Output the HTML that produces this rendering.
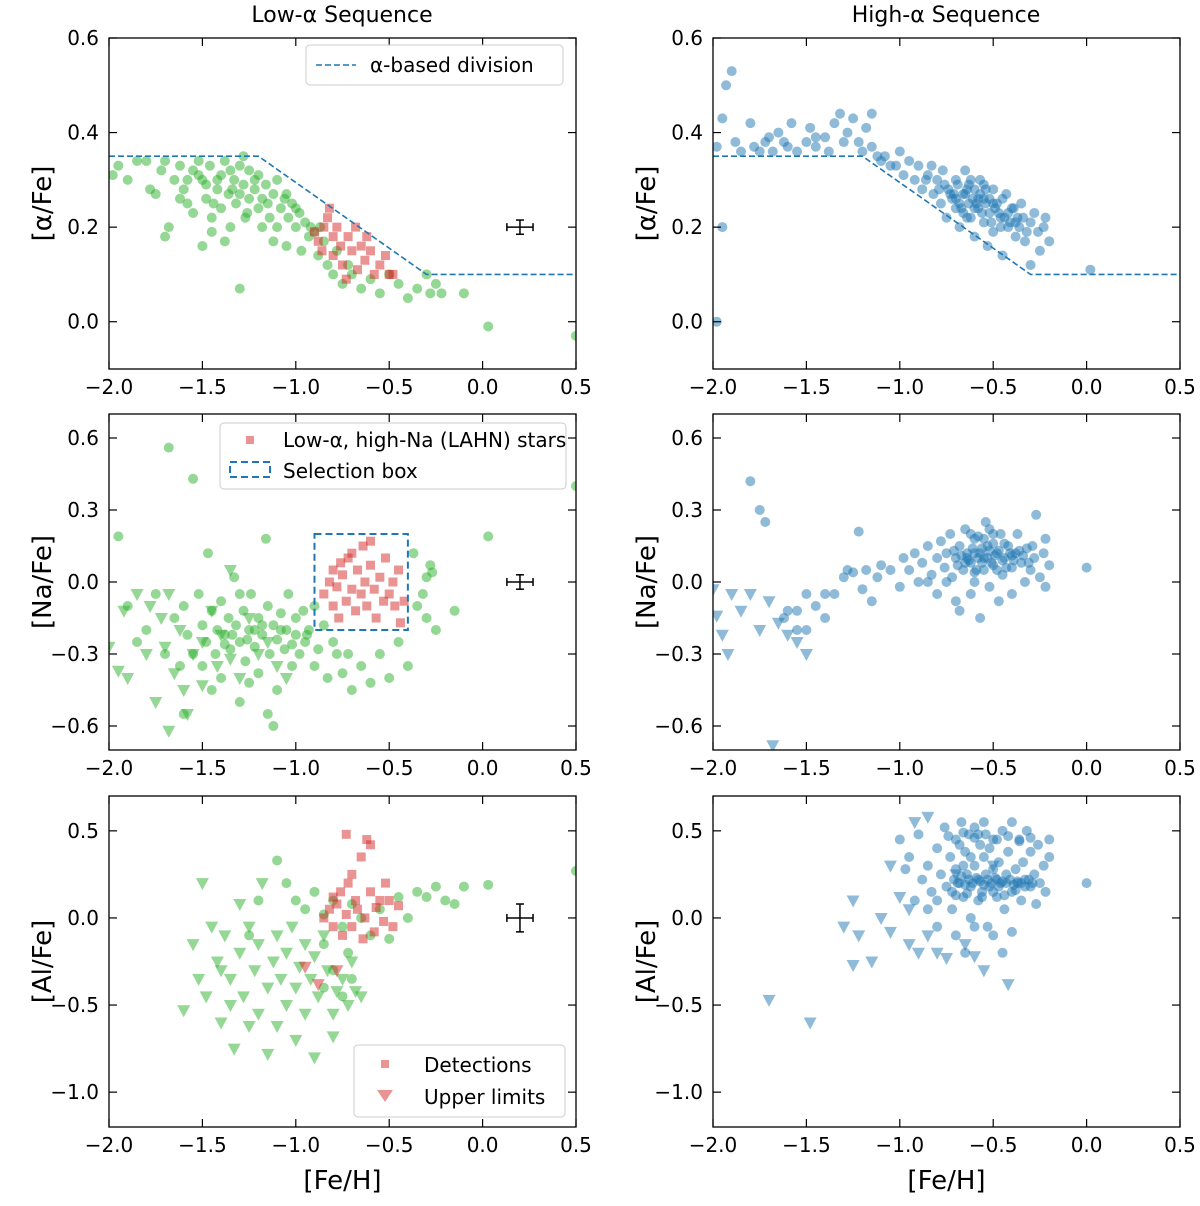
<!DOCTYPE html>
<html><head><meta charset="utf-8"><style>
body{margin:0;background:#fff;}
svg text{font-family:"DejaVu Sans","Liberation Sans",sans-serif;fill:#000;}
</style></head><body>
<svg id="fig" width="1200" height="1201" xmlns="http://www.w3.org/2000/svg">
<text x="342" y="22" font-size="22" text-anchor="middle">Low-α Sequence</text>
<text x="946" y="22" font-size="22" text-anchor="middle">High-α Sequence</text>
</svg>
<script>
// ===== data =====
const aGreenX=[-1.98,-1.95,-1.9,-1.85,-1.8,-1.78,-1.75,-1.72,-1.7,-1.68,-1.65,-1.62,-1.6,-1.58,-1.55,-1.52,-1.5,-1.5,-1.48,-1.46,-1.45,-1.42,-1.4,-1.4,-1.38,-1.36,-1.35,-1.33,-1.32,-1.3,-1.3,-1.28,-1.27,-1.25,-1.25,-1.22,-1.2,-1.2,-1.18,-1.16,-1.15,-1.14,-1.12,-1.1,-1.1,-1.08,-1.06,-1.05,-1.04,-1.02,-1.0,-0.98,-0.97,-0.95,-0.93,-0.9,-0.88,-0.85,-0.83,-0.8,-0.78,-0.75,-0.72,-0.7,-0.65,-0.6,-0.55,-0.5,-0.45,-0.4,-0.35,-0.3,-0.28,-0.25,-0.22,-0.1,0.03,0.5,-1.7,-1.45,-1.55,-1.38,-1.62,-1.28,-1.12,-1.48,-1.42,-1.35,-1.3,-1.22,-1.18,-1.05,-1.0,-0.92,-0.87,-1.52,-1.58,-1.44,-1.26,-1.34];
const aGreenY=[0.31,0.33,0.3,0.34,0.34,0.28,0.27,0.32,0.34,0.2,0.3,0.33,0.28,0.25,0.32,0.34,0.3,0.16,0.26,0.33,0.22,0.28,0.31,0.24,0.34,0.27,0.2,0.3,0.25,0.33,0.07,0.29,0.22,0.32,0.26,0.28,0.24,0.31,0.2,0.29,0.25,0.22,0.27,0.3,0.2,0.24,0.26,0.16,0.22,0.25,0.2,0.23,0.15,0.21,0.18,0.19,0.14,0.17,0.12,0.1,0.15,0.08,0.12,0.1,0.07,0.09,0.06,0.1,0.08,0.05,0.07,0.1,0.06,0.08,0.06,0.06,-0.01,-0.03,0.18,0.19,0.23,0.17,0.26,0.35,0.17,0.29,0.3,0.32,0.27,0.3,0.26,0.27,0.24,0.2,0.2,0.31,0.3,0.25,0.23,0.28];
const aRedX=[-0.9,-0.88,-0.85,-0.83,-0.8,-0.8,-0.78,-0.76,-0.75,-0.72,-0.7,-0.68,-0.67,-0.65,-0.63,-0.6,-0.58,-0.55,-0.52,-0.5,-0.48,-0.82,-0.62,-0.73,-0.86];
const aRedY=[0.19,0.17,0.2,0.22,0.18,0.14,0.2,0.16,0.12,0.18,0.15,0.2,0.11,0.16,0.13,0.15,0.1,0.12,0.14,0.1,0.1,0.24,0.18,0.09,0.15];
const divX=[-2,-1.2,-0.3,0.5];
const divY=[0.35,0.35,0.1,0.1];
const bBlueX=[-1.98,-1.95,-1.93,-1.9,-1.88,-1.85,-1.8,-1.78,-1.75,-1.7,-1.68,-1.65,-1.6,-1.58,-1.55,-1.5,-1.48,-1.45,-1.4,-1.38,-1.35,-1.32,-1.3,-1.28,-1.25,-1.22,-1.2,-1.18,-1.15,-1.12,-1.1,-1.05,-1.0,-0.98,-0.95,-0.92,-0.9,-0.88,-0.85,-0.82,-0.8,-0.78,-0.76,-0.75,-0.73,-0.7,-0.7,-0.68,-0.66,-0.65,-0.63,-0.62,-0.6,-0.6,-0.58,-0.57,-0.55,-0.55,-0.53,-0.52,-0.5,-0.5,-0.48,-0.46,-0.45,-0.43,-0.42,-0.4,-0.38,-0.37,-0.35,-0.33,-0.3,-0.3,-0.28,-0.26,-0.25,-0.23,-0.22,-0.2,-0.72,-0.66,-0.62,-0.58,-0.54,-0.64,-0.68,0.02,-1.98,-1.95,
-0.74,-0.71,-0.69,-0.67,-0.65,-0.63,-0.61,-0.59,-0.57,-0.56,-0.54,-0.52,-0.51,-0.49,-0.47,-0.45,-0.44,-0.41,-0.39,-0.36,-0.34,-0.32,-0.6,-0.64,-0.7,-0.55,-0.5,-0.46,-0.42,-0.38,-0.86,-0.83,-0.79,-0.77,-1.15,-1.08,-1.02,-1.45,-1.62,-1.72];
const bBlueY=[0.37,0.43,0.5,0.53,0.38,0.36,0.42,0.37,0.36,0.39,0.36,0.4,0.37,0.42,0.36,0.38,0.41,0.37,0.39,0.36,0.42,0.44,0.38,0.4,0.43,0.38,0.36,0.41,0.44,0.35,0.34,0.33,0.36,0.31,0.34,0.3,0.33,0.28,0.31,0.27,0.3,0.25,0.29,0.22,0.27,0.3,0.24,0.2,0.27,0.32,0.25,0.22,0.28,0.18,0.24,0.3,0.26,0.21,0.16,0.23,0.28,0.19,0.25,0.22,0.14,0.27,0.2,0.24,0.18,0.22,0.25,0.17,0.21,0.12,0.23,0.19,0.15,0.2,0.22,0.17,0.26,0.23,0.3,0.26,0.28,0.28,0.25,0.11,0.0,0.2,
0.28,0.27,0.29,0.24,0.27,0.29,0.26,0.25,0.27,0.23,0.25,0.26,0.21,0.24,0.23,0.26,0.22,0.21,0.24,0.2,0.22,0.19,0.24,0.22,0.26,0.29,0.25,0.2,0.23,0.21,0.3,0.33,0.28,0.32,0.37,0.35,0.33,0.39,0.38,0.38];
const cGreenX=[-1.95,-1.9,-1.85,-1.8,-1.75,-1.7,-1.68,-1.65,-1.62,-1.6,-1.58,-1.55,-1.55,-1.52,-1.5,-1.48,-1.47,-1.45,-1.43,-1.42,-1.4,-1.4,-1.38,-1.36,-1.35,-1.33,-1.32,-1.3,-1.3,-1.28,-1.27,-1.25,-1.24,-1.22,-1.2,-1.2,-1.18,-1.16,-1.15,-1.14,-1.12,-1.1,-1.1,-1.08,-1.06,-1.05,-1.04,-1.02,-1.0,-1.0,-0.98,-0.96,-0.95,-0.93,-0.9,-0.9,-0.88,-0.85,-0.83,-0.8,-0.78,-0.75,-0.72,-0.7,-0.65,-0.6,-0.55,-0.5,-0.45,-0.4,-0.37,-0.35,-0.32,-0.3,-0.28,-0.27,-0.25,-0.3,-0.15,0.03,0.5,-1.12,-1.3,-1.5,-1.25,-1.15,-1.45,-1.6,-1.34,-1.26,-1.18,-1.08,-1.22,-1.38,-1.02,-0.94];
const cGreenY=[0.19,-0.1,-0.25,-0.2,-0.05,-0.3,0.56,-0.15,-0.35,-0.1,-0.22,0.43,-0.3,-0.05,-0.18,-0.25,0.12,-0.12,-0.3,-0.2,-0.08,-0.4,-0.22,-0.15,-0.28,0.02,-0.18,-0.25,-0.5,-0.12,-0.33,-0.2,-0.05,-0.27,-0.15,-0.38,-0.22,0.18,-0.1,-0.3,-0.18,-0.24,-0.45,-0.13,-0.28,-0.2,-0.05,-0.35,-0.22,-0.15,-0.3,-0.12,-0.25,-0.2,-0.35,-0.1,-0.28,-0.18,-0.4,-0.25,-0.3,-0.38,-0.3,-0.45,-0.35,-0.42,-0.3,-0.4,-0.25,-0.35,0.12,-0.1,-0.05,0.02,0.07,0.04,-0.2,-0.15,-0.12,0.19,0.4,-0.6,-0.05,-0.35,-0.42,-0.55,-0.45,-0.55,-0.22,-0.24,-0.18,-0.2,-0.2,-0.26,-0.26,-0.22];
const cGreenTriX=[-2.0,-1.95,-1.92,-1.9,-1.85,-1.78,-1.75,-1.72,-1.7,-1.68,-1.65,-1.62,-1.6,-1.58,-1.55,-1.5,-1.5,-1.45,-1.42,-1.4,-1.35,-1.3,-1.25,-1.2,-1.15,-1.1,-1.05,-1.8,-1.68,-1.35];
const cGreenTriY=[-0.27,-0.37,-0.12,-0.4,-0.05,-0.1,-0.5,-0.15,-0.27,-0.05,-0.38,-0.2,-0.45,-0.55,-0.3,-0.25,-0.43,-0.12,-0.35,-0.22,-0.32,-0.4,-0.15,-0.3,-0.25,-0.35,-0.4,-0.3,-0.62,0.05];
const cRedX=[-0.85,-0.82,-0.8,-0.8,-0.78,-0.77,-0.75,-0.73,-0.72,-0.7,-0.68,-0.67,-0.65,-0.64,-0.63,-0.62,-0.6,-0.58,-0.57,-0.55,-0.53,-0.52,-0.5,-0.48,-0.47,-0.45,-0.44,-0.42,-0.6,-0.7,-0.76];
const cRedY=[-0.05,0.0,-0.1,0.05,-0.02,-0.15,0.03,-0.08,0.1,-0.03,-0.12,0.05,-0.05,0.15,0.0,-0.1,0.07,-0.03,-0.15,0.02,-0.08,0.1,-0.05,0.0,-0.1,0.05,-0.17,-0.08,0.17,0.12,0.08];
const boxX=[-0.9,-0.4];
const boxY=[-0.2,0.2];
const dBlueX=[-1.8,-1.75,-1.72,-1.6,-1.55,-1.5,-1.45,-1.4,-1.35,-1.3,-1.25,-1.22,-1.2,-1.18,-1.15,-1.12,-1.1,-1.05,-1.0,-0.98,-0.95,-0.92,-0.9,-0.88,-0.85,-0.83,-0.8,-0.8,-0.78,-0.76,-0.75,-0.73,-0.72,-0.7,-0.7,-0.68,-0.66,-0.65,-0.64,-0.62,-0.62,-0.6,-0.6,-0.58,-0.57,-0.56,-0.55,-0.54,-0.53,-0.52,-0.5,-0.5,-0.48,-0.47,-0.46,-0.45,-0.44,-0.42,-0.4,-0.4,-0.38,-0.37,-0.35,-0.33,-0.32,-0.3,-0.28,-0.27,-0.25,-0.23,-0.22,-0.2,-0.22,0.0,-0.68,-0.6,-0.55,-0.65,-0.52,-0.75,-0.85,-1.28,-1.5,-1.4,-1.55,-1.62,
-0.71,-0.69,-0.67,-0.63,-0.61,-0.59,-0.57,-0.55,-0.53,-0.51,-0.49,-0.47,-0.45,-0.43,-0.41,-0.39,-0.36,-0.34,-0.31,-0.29,-0.64,-0.6,-0.56,-0.52,-0.48,-0.44,-0.4,-0.58,-0.5,-0.62];
const dBlueY=[0.42,0.3,0.25,-0.12,-0.2,-0.05,-0.1,-0.15,-0.05,0.02,0.04,0.21,-0.03,0.05,-0.08,0.02,0.07,0.05,-0.02,0.1,0.05,0.12,0.0,0.08,0.15,0.03,0.1,-0.05,0.17,0.06,0.12,0.2,0.02,0.1,-0.08,0.15,0.05,0.22,0.12,-0.05,0.08,0.18,0.0,0.1,-0.15,0.14,0.05,0.25,0.1,-0.02,0.16,0.07,0.12,-0.08,0.2,0.03,0.1,0.15,0.06,-0.05,0.12,0.2,0.08,0.0,0.14,0.05,0.1,0.28,0.02,0.12,0.18,0.07,-0.02,0.06,-0.12,0.12,0.18,0.08,0.22,0.0,0.0,0.05,-0.2,-0.05,-0.12,-0.15,
0.13,0.07,0.11,0.09,0.14,0.05,0.12,0.1,0.15,0.08,0.11,0.13,0.09,0.06,0.12,0.09,0.13,0.11,0.08,0.15,0.1,0.04,0.08,0.13,0.05,0.16,0.11,0.19,0.2,0.2];
const dTriX=[-2.0,-1.98,-1.95,-1.92,-1.9,-1.85,-1.8,-1.75,-1.7,-1.68,-1.65,-1.6,-1.55,-1.5];
const dTriY=[-0.03,-0.14,-0.22,-0.3,-0.05,-0.12,-0.05,-0.2,-0.08,-0.68,-0.17,-0.22,-0.25,-0.3];
const eGreenX=[-1.1,-1.05,-1.0,-0.95,-0.9,-0.85,-0.8,-0.75,-0.7,-0.65,-0.6,-0.55,-0.5,-0.45,-0.4,-0.35,-0.3,-0.25,-0.2,-0.15,-0.1,0.03,0.5,-0.7,-0.75,-0.8,-0.85,-0.72,-0.85,-1.2,-1.25];
const eGreenY=[0.33,0.2,0.1,0.05,0.15,0.02,0.1,-0.05,0.08,0.0,-0.1,0.05,-0.12,0.12,0.0,0.15,0.12,0.18,0.1,0.08,0.18,0.19,0.27,-0.35,-0.45,-0.3,-0.4,-0.2,-0.15,0.1,-0.1];
const eGreenTriX=[-1.6,-1.55,-1.52,-1.5,-1.48,-1.45,-1.42,-1.4,-1.38,-1.35,-1.33,-1.3,-1.28,-1.25,-1.22,-1.2,-1.2,-1.18,-1.15,-1.12,-1.1,-1.1,-1.08,-1.05,-1.05,-1.02,-1.0,-1.0,-0.98,-0.95,-0.95,-0.92,-0.9,-0.9,-0.88,-0.85,-0.83,-0.8,-0.8,-0.78,-0.75,-0.72,-0.7,-0.68,-0.65,-1.15,-1.25,-1.35,-1.4,-1.3];
const eGreenTriY=[-0.53,-0.15,-0.35,0.2,-0.45,-0.05,-0.25,-0.6,-0.1,-0.35,-0.75,-0.2,-0.45,-0.05,-0.3,-0.55,-0.15,0.2,-0.4,-0.25,-0.62,-0.1,-0.35,-0.5,-0.2,-0.05,-0.4,-0.7,-0.28,-0.15,-0.55,-0.35,-0.8,-0.22,-0.45,-0.1,-0.3,-0.55,-0.68,-0.42,-0.35,-0.5,-0.25,-0.42,-0.45,-0.78,-0.62,-0.5,-0.3,0.08];
const eRedX=[-0.85,-0.82,-0.8,-0.78,-0.76,-0.75,-0.73,-0.72,-0.7,-0.7,-0.68,-0.67,-0.65,-0.64,-0.63,-0.62,-0.6,-0.6,-0.58,-0.57,-0.55,-0.53,-0.52,-0.5,-0.48,-0.45,-0.73,-0.8];
const eRedY=[0.0,0.05,-0.05,0.08,0.15,-0.1,0.02,0.2,0.25,-0.05,0.1,0.05,0.35,-0.12,0.0,0.45,0.15,0.42,-0.08,0.06,0.1,-0.02,0.2,0.1,-0.05,0.07,0.48,0.12];
const eRedTriX=[-0.95,-0.78,-0.88];
const eRedTriY=[-0.28,-0.3,-0.38];
const fBlueX=[-0.95,-0.9,-0.88,-0.85,-0.83,-0.8,-0.8,-0.78,-0.76,-0.75,-0.73,-0.72,-0.7,-0.7,-0.68,-0.67,-0.66,-0.65,-0.64,-0.63,-0.62,-0.62,-0.6,-0.6,-0.58,-0.58,-0.57,-0.56,-0.55,-0.55,-0.54,-0.53,-0.52,-0.5,-0.5,-0.48,-0.47,-0.46,-0.45,-0.44,-0.43,-0.42,-0.4,-0.4,-0.38,-0.37,-0.36,-0.35,-0.34,-0.33,-0.32,-0.3,-0.3,-0.28,-0.27,-0.26,-0.25,-0.23,-0.22,-0.2,-0.2,0.0,-0.7,-0.65,-0.6,-0.5,-0.45,-0.4,-0.85,-0.8,-0.92,-1.0,-0.97,-0.68,-0.62,-0.58,-0.52,-0.48,-0.72,-0.66,
-0.71,-0.69,-0.67,-0.65,-0.63,-0.61,-0.59,-0.57,-0.55,-0.53,-0.51,-0.49,-0.47,-0.45,-0.43,-0.41,-0.39,-0.37,-0.35,-0.33,-0.31,-0.29,-0.74,-0.66,-0.6,-0.54,-0.48,-0.42,-0.36,-0.3,-0.7,-0.64,-0.56,-0.5,-0.44,-0.38];
const fBlueY=[0.35,0.48,0.22,0.3,0.15,0.4,0.1,0.25,0.52,0.18,0.35,0.05,0.28,0.45,0.2,0.55,0.12,0.38,0.25,0.48,0.0,0.18,0.3,0.52,0.22,0.1,0.42,0.15,0.35,0.55,0.25,-0.05,0.18,0.45,0.28,0.12,0.32,0.2,0.5,0.05,0.25,0.38,0.15,0.55,0.28,0.2,0.45,0.1,0.32,0.22,0.5,0.18,0.38,0.25,0.08,0.42,0.2,0.3,0.15,0.35,0.45,0.2,-0.1,-0.2,-0.05,-0.1,-0.2,-0.08,0.05,-0.05,0.1,0.45,0.28,0.42,0.35,0.48,0.4,0.22,0.15,0.3,
0.22,0.2,0.24,0.19,0.22,0.2,0.23,0.21,0.19,0.22,0.2,0.23,0.18,0.21,0.2,0.22,0.19,0.21,0.2,0.18,0.22,0.2,0.47,0.49,0.46,0.48,0.45,0.47,0.44,0.46,0.13,0.14,0.12,0.15,0.13,0.16];
const fTriX=[-1.7,-1.48,-1.3,-1.25,-1.22,-1.15,-1.1,-1.05,-1.0,-0.95,-0.9,-0.85,-0.8,-0.75,-0.7,-0.65,-0.6,-0.55,-0.5,-0.42,-0.92,-0.95,-1.05,-0.85,-1.25];
const fTriY=[-0.47,-0.6,-0.05,-0.27,-0.1,-0.25,0.0,-0.08,0.12,-0.15,-0.2,-0.1,-0.2,-0.23,0.25,-0.15,-0.22,-0.3,0.3,-0.38,0.55,0.05,0.3,0.58,0.1];
const xTicks=[-2.0,-1.5,-1.0,-0.5,0.0,0.5];
const yTicksAlpha=[0.0,0.2,0.4,0.6];
const yTicksNa=[-0.6,-0.3,0.0,0.3,0.6];
const yTicksAl=[-1.0,-0.5,0.0,0.5];

// ===== drawing =====
const NS='http://www.w3.org/2000/svg';
const svg=document.getElementById('fig');
const G='rgba(44,175,44,0.5)',R='rgba(214,39,40,0.5)',B='rgba(31,119,180,0.5)';
function mk(tag,attrs,parent){const e=document.createElementNS(NS,tag);for(const k in attrs)e.setAttribute(k,attrs[k]);(parent||svg).appendChild(e);return e;}
function fmt(v,d){const s=Math.abs(v).toFixed(d);return (v<-1e-9?'−':'')+s;}
function panel(name,L,Rr,T,Bt,ylo,yhi,yt,ylab,xlab){
  const g=mk('g',{});
  
  
  const sx=v=>L+(v+2)/2.5*(Rr-L);
  const sy=v=>Bt-(v-ylo)/(yhi-ylo)*(Bt-T);
  const clip='c'+name;
  const cp=mk('clipPath',{id:clip},g);mk('rect',{x:L,y:T,width:Rr-L,height:Bt-T},cp);
  const plot=mk('g',{'clip-path':'url(#'+clip+')'},g);
  for(const v of xTicks){const x=sx(v);
    mk('line',{x1:x,x2:x,y1:Bt,y2:Bt-8,stroke:'#000','stroke-width':1.2},g);
    mk('line',{x1:x,x2:x,y1:T,y2:T+8,stroke:'#000','stroke-width':1.2},g);
    const t=mk('text',{x:x,y:Bt+25,'font-size':20,'text-anchor':'middle'},g);t.textContent=fmt(v,1);
    
    }
  for(const v of yt){const y=sy(v);
    mk('line',{x1:L,x2:L+8,y1:y,y2:y,stroke:'#000','stroke-width':1.2},g);
    mk('line',{x1:Rr,x2:Rr-8,y1:y,y2:y,stroke:'#000','stroke-width':1.2},g);
    const t=mk('text',{x:L-10,y:y+7,'font-size':20,'text-anchor':'end'},g);t.textContent=fmt(v,1);
    
    }
  const yl=mk('text',{x:0,y:0,'font-size':26,'text-anchor':'middle',transform:`translate(${L-58},${(T+Bt)/2}) rotate(-90)`},g);yl.textContent=ylab;
  
  
  if(xlab){const xl=mk('text',{x:(L+Rr)/2,y:Bt+62,'font-size':26,'text-anchor':'middle'},g);xl.textContent=xlab;
    
    }
  mk('rect',{x:L,y:T,width:Rr-L,height:Bt-T,fill:'none',stroke:'#000','stroke-width':1.3},g);
  return {g,plot,sx,sy};
}
function circles(p,xs,ys,c,nm){xs.forEach((x,i)=>{const e=mk('circle',{cx:p.sx(x),cy:p.sy(ys[i]),r:5,fill:c},p.plot);
  
  });}
function squares(p,xs,ys,c,nm){xs.forEach((x,i)=>{const e=mk('rect',{x:p.sx(x)-4.5,y:p.sy(ys[i])-4.5,width:9,height:9,fill:c},p.plot);
  
  });}
function tris(p,xs,ys,c,nm){xs.forEach((x,i)=>{const X=p.sx(x),Y=p.sy(ys[i]);const e=mk('polygon',{points:`${X-6.5},${Y-5} ${X+6.5},${Y-5} ${X},${Y+7}`,fill:c},p.plot);
  
  });}
function errbar(p,x,y,dx,dy){const g=mk('g',{stroke:'#000','stroke-width':1.5},p.g);
  
  
  const X=p.sx(x),Y=p.sy(y),x1=p.sx(x-dx),x2=p.sx(x+dx),y1=p.sy(y-dy),y2=p.sy(y+dy);
  mk('line',{x1:x1,x2:x2,y1:Y,y2:Y},g);mk('line',{x1:X,x2:X,y1:y1,y2:y2},g);
  mk('line',{x1:x1,x2:x1,y1:Y-4,y2:Y+4},g);mk('line',{x1:x2,x2:x2,y1:Y-4,y2:Y+4},g);
  mk('line',{x1:X-4,x2:X+4,y1:y1,y2:y1},g);mk('line',{x1:X-4,x2:X+4,y1:y2,y2:y2},g);}
function legendBox(p,x,y,w,h){const r=mk('rect',{x,y,width:w,height:h,rx:4,fill:'#fff','fill-opacity':0.85,stroke:'#ccc'},p.g);
  
  }
function ltext(p,x,y,s){const t=mk('text',{x,y,'font-size':20},p.g);t.textContent=s;
  
  }

// Panel A
const pA=panel('panel-alpha-low',109,576,38,369,-0.1,0.6,yTicksAlpha,'[α/Fe]',null);
circles(pA,aGreenX,aGreenY,G,'green-star');
squares(pA,aRedX,aRedY,R,'lahn-star');
mk('polyline',{points:divX.map((x,i)=>pA.sx(x)+','+pA.sy(divY[i])).join(' '),fill:'none',stroke:'#1f77b4','stroke-width':1.6,'stroke-dasharray':'6,3'},pA.plot);
errbar(pA,0.2,0.2,0.07,0.015);
legendBox(pA,306,45,257,40);
mk('line',{x1:316,x2:356,y1:65,y2:65,stroke:'#1f77b4','stroke-width':1.6,'stroke-dasharray':'6,3'},pA.g);
ltext(pA,370,72,'α-based division');
// Panel B
const pB=panel('panel-alpha-high',713,1180,38,369,-0.1,0.6,yTicksAlpha,'[α/Fe]',null);
circles(pB,bBlueX,bBlueY,B,'blue-star');
mk('polyline',{points:divX.map((x,i)=>pB.sx(x)+','+pB.sy(divY[i])).join(' '),fill:'none',stroke:'#1f77b4','stroke-width':1.6,'stroke-dasharray':'6,3'},pB.plot);
// Panel C
const pC=panel('panel-na-low',109,576,414,750,-0.7,0.7,yTicksNa,'[Na/Fe]',null);
circles(pC,cGreenX,cGreenY,G,'green-star');
tris(pC,cGreenTriX,cGreenTriY,G,'green-upper-limit');
squares(pC,cRedX,cRedY,R,'lahn-star');
mk('rect',{x:pC.sx(boxX[0]),y:pC.sy(boxY[1]),width:pC.sx(boxX[1])-pC.sx(boxX[0]),height:pC.sy(boxY[0])-pC.sy(boxY[1]),fill:'none',stroke:'#1f77b4','stroke-width':2,'stroke-dasharray':'7,4'},pC.plot);
errbar(pC,0.2,0.0,0.07,0.03);
legendBox(pC,220,423,346,66);
mk('rect',{x:246,y:436,width:8,height:8,fill:R},pC.g);
ltext(pC,283,447,'Low-α, high-Na (LAHN) stars');
mk('rect',{x:230,y:462,width:40,height:15,fill:'none',stroke:'#1f77b4','stroke-width':2,'stroke-dasharray':'7,4'},pC.g);
ltext(pC,283,478,'Selection box');
// Panel D
const pD=panel('panel-na-high',713,1180,414,750,-0.7,0.7,yTicksNa,'[Na/Fe]',null);
circles(pD,dBlueX,dBlueY,B,'blue-star');
tris(pD,dTriX,dTriY,B,'blue-upper-limit');
// Panel E
const pE=panel('panel-al-low',109,576,796,1127,-1.2,0.7,yTicksAl,'[Al/Fe]','[Fe/H]');
circles(pE,eGreenX,eGreenY,G,'green-star');
tris(pE,eGreenTriX,eGreenTriY,G,'green-upper-limit');
squares(pE,eRedX,eRedY,R,'lahn-star');
tris(pE,eRedTriX,eRedTriY,R,'lahn-upper-limit');
errbar(pE,0.2,0.0,0.07,0.08);
legendBox(pE,354,1045,211,72);
mk('rect',{x:381,y:1060,width:8,height:8,fill:R},pE.g);
ltext(pE,424,1072,'Detections');
mk('polygon',{points:'377,1090 393,1090 385,1102',fill:R},pE.g);
ltext(pE,424,1104,'Upper limits');
// Panel F
const pF=panel('panel-al-high',713,1180,796,1127,-1.2,0.7,yTicksAl,'[Al/Fe]','[Fe/H]');
circles(pF,fBlueX,fBlueY,B,'blue-star');
tris(pF,fTriX,fTriY,B,'blue-upper-limit');
</script>
</body></html>
